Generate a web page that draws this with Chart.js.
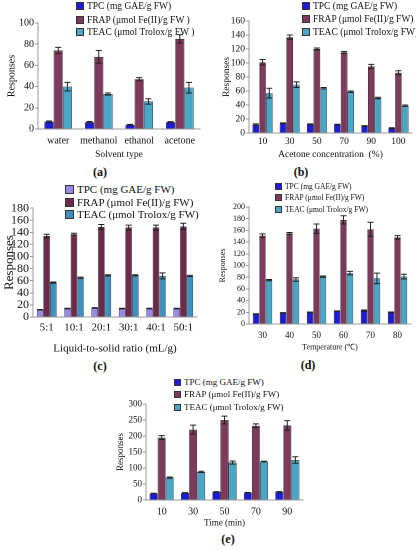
<!DOCTYPE html>
<html>
<head>
<meta charset="utf-8">
<script src="https://cdn.jsdelivr.net/npm/chart.js@4/dist/chart.umd.min.js"></script>
<style>
  html, body { margin: 0; padding: 0; background: #fff; }
  #page { position: relative; width: 416px; height: 550px; overflow: hidden; font-family: "Liberation Serif", serif; color: #111; }
  canvas { position: absolute; }
  .lg { position: absolute; white-space: nowrap; z-index: 2; }
  .lg i { display: inline-block; border: 1px solid #333; margin-right: 3px; vertical-align: -1px; }
  .tag { position: absolute; font-weight: bold; font-size: 12px; transform: translate(-50%, -50%); }
</style>
</head>
<body>
<div id="page">
  <canvas id="ca"></canvas>
  <canvas id="cb"></canvas>
  <canvas id="cc"></canvas>
  <canvas id="cd"></canvas>
  <canvas id="ce"></canvas>
</div>
<script>
// (a) solvent type
const solvents = ['water', 'methanol', 'ethanol', 'acetone'];
const solventTPC = [7, 6.5, 4, 6.5];
const solventTPCErr = [0.5, 0.6, 0.4, 0.5];
const solventFRAP = [74, 68, 47, 85];
const solventFRAPErr = [3, 6, 1.5, 4];
const solventTEAC = [40, 33, 26, 39];
const solventTEACErr = [4, 1, 2.5, 5];

// (b) acetone concentration
const acetone = ['10', '30', '50', '70', '90', '100'];
const acetoneTPC = [12, 14, 12.5, 12, 10, 7];
const acetoneTPCErr = [1, 0.5, 0.5, 0.5, 0.5, 0.5];
const acetoneFRAP = [101, 137, 120, 115, 95, 86];
const acetoneFRAPErr = [4, 3, 1.5, 1.5, 3, 3];
const acetoneTEAC = [57, 69, 64, 59, 50, 39];
const acetoneTEACErr = [7, 4, 1, 1, 1, 1];

// (c) liquid-to-solid ratio
const ratios = ['5:1', '10:1', '20:1', '30:1', '40:1', '50:1'];
const ratioTPC = [12, 14, 15, 14, 14, 14];
const ratioTPCErr = [0.5, 0.5, 0.5, 0.5, 0.5, 0.5];
const ratioFRAP = [134, 137, 149, 148, 148, 150];
const ratioFRAPErr = [3, 1.5, 4, 4, 4, 5];
const ratioTEAC = [57, 65, 69, 69, 68, 68];
const ratioTEACErr = [1, 1, 1, 1, 5, 1];

// (d) temperature
const temps = ['30', '40', '50', '60', '70', '80'];
const tempTPC = [17, 19, 20, 22, 23, 20];
const tempTPCErr = [0.5, 0.5, 0.5, 0.5, 1, 0.5];
const tempFRAP = [151, 155, 163, 178, 162, 148];
const tempFRAPErr = [3, 1.5, 8, 7, 12, 3];
const tempTEAC = [75, 76, 81, 87, 78, 81];
const tempTEACErr = [1, 3, 1, 3, 9, 4];

// (e) time
const times = ['10', '30', '50', '70', '90'];
const timeTPC = [20, 22, 25, 23, 25];
const timeTPCErr = [1, 1, 1, 1, 1];
const timeFRAP = [195, 220, 250, 232, 233];
const timeFRAPErr = [6, 14, 12, 6, 15];
const timeTEAC = [70, 88, 117, 120, 125];
const timeTEACErr = [2, 2, 5, 1, 10];

const seriesNames = ['TPC (mg GAE/g FW)', 'FRAP (\u03bcmol Fe(II)/g FW)', 'TEAC (\u03bcmol Trolox/g FW)'];

const mainColors = ['#1c1cd8', '#7d3a5c', '#4aa6c6'];
const ratioColors = ['#9a88e8', '#6e2a4c', '#3e90c0'];

const SERIF = "'Liberation Serif', serif";

// error bars drawn from the bar elements and the y scale
const errorBars = {
  id: 'errorBars',
  afterDatasetsDraw(chart) {
    const ctx = chart.ctx;
    const y = chart.scales.y;
    ctx.save();
    ctx.strokeStyle = '#222';
    ctx.lineWidth = 1;
    chart.data.datasets.forEach((ds, i) => {
      const meta = chart.getDatasetMeta(i);
      meta.data.forEach((bar, j) => {
        const v = ds.data[j], e = ds.errors[j];
        const top = y.getPixelForValue(v + e);
        const bot = y.getPixelForValue(v - e);
        const cap = Math.min(3, bar.width / 2);
        ctx.beginPath();
        ctx.moveTo(bar.x, top); ctx.lineTo(bar.x, bot);
        ctx.moveTo(bar.x - cap, top); ctx.lineTo(bar.x + cap, top);
        ctx.moveTo(bar.x - cap, bot); ctx.lineTo(bar.x + cap, bot);
        ctx.stroke();
      });
    });
    ctx.restore();
  }
};

function makePanel(p) {
  const cv = document.getElementById(p.id);
  cv.style.left = p.box.left + 'px';
  cv.style.top = p.box.top + 'px';
  const bottom = p.box.top + p.box.height;
  new Chart(cv, {
    type: 'bar',
    data: {
      labels: p.labels,
      datasets: p.values.map((vals, i) => ({
        label: seriesNames[i],
        data: vals,
        errors: p.errors[i],
        backgroundColor: p.colors[i],
        borderColor: '#333',
        borderWidth: 0.6,
        barPercentage: 1,
        categoryPercentage: p.catPct
      }))
    },
    options: {
      responsive: false,
      animation: false,
      devicePixelRatio: 2,
      layout: { padding: { top: p.area.t - p.box.top, right: p.box.left + p.box.width - p.area.r, left: 0, bottom: 0 } },
      plugins: { legend: { display: false }, tooltip: { enabled: false } },
      scales: {
        x: {
          grid: { display: false, drawTicks: false },
          border: { color: '#999' },
          ticks: { color: '#111', padding: p.xPad, maxRotation: 0, autoSkip: false, font: { family: SERIF, size: p.xFont } },
          title: { display: true, text: p.xTitle, color: '#111', padding: { top: 0, bottom: p.xTitlePad }, font: { family: SERIF, size: p.xTitleFont } },
          afterFit: s => { s.height = bottom - p.area.b; }
        },
        y: {
          min: 0, max: p.yMax,
          grid: { drawOnChartArea: false, tickLength: 3, color: '#999' },
          border: { color: '#999' },
          ticks: { stepSize: p.yStep, autoSkip: false, color: '#111', padding: 1, font: { family: SERIF, size: p.yFont } },
          title: { display: true, text: 'Responses', color: '#111', padding: { top: p.yTitlePad, bottom: 0 }, font: { family: SERIF, size: p.yTitleFont } },
          afterFit: s => { s.width = p.area.l - p.box.left; }
        }
      }
    },
    plugins: [errorBars]
  });
  cv.style.width = p.box.width + 'px';
  cv.style.height = p.box.height + 'px';
}

function legend(left, ys, size, colors, names) {
  const page = document.getElementById('page');
  names.forEach((n, i) => {
    const d = document.createElement('div');
    d.className = 'lg';
    d.style.left = left + 'px';
    d.style.top = (ys[i] - size * 0.6) + 'px';
    d.style.fontSize = size + 'px';
    const sq = Math.round(size * 0.6);
    d.innerHTML = '<i style="width:' + sq + 'px;height:' + sq + 'px;background:' + colors[i] + '"></i>' + n;
    page.appendChild(d);
  });
}

function tag(text, x, y) {
  const d = document.createElement('div');
  d.className = 'tag';
  d.style.left = x + 'px';
  d.style.top = y + 'px';
  d.textContent = text;
  document.getElementById('page').appendChild(d);
}

function sizeCanvas(id, w, h) {
  const c = document.getElementById(id);
  c.width = w; c.height = h;
}
sizeCanvas('ca', 205, 152);
sizeCanvas('cb', 206, 152);
sizeCanvas('cc', 205, 158);
sizeCanvas('cd', 206, 155);
sizeCanvas('ce', 200, 135);

makePanel({
  id: 'ca', box: { left: 0, top: 10, width: 205, height: 152 }, area: { l: 38, t: 23, r: 200, b: 129 },
  labels: solvents, values: [solventTPC, solventFRAP, solventTEAC], errors: [solventTPCErr, solventFRAPErr, solventTEACErr],
  colors: mainColors, catPct: 0.68, yMax: 100, yStep: 20, yFont: 10, xFont: 10, xPad: 6,
  xTitle: 'Solvent type', xTitleFont: 9.5, xTitlePad: 2, yTitleFont: 10, yTitlePad: 6
});
makePanel({
  id: 'cb', box: { left: 210, top: 10, width: 206, height: 152 }, area: { l: 249, t: 21, r: 412, b: 133 },
  labels: acetone, values: [acetoneTPC, acetoneFRAP, acetoneTEAC], errors: [acetoneTPCErr, acetoneFRAPErr, acetoneTEACErr],
  colors: mainColors, catPct: 0.74, yMax: 160, yStep: 20, yFont: 9.5, xFont: 9.5, xPad: 3,
  xTitle: 'Acetone concentration  (%)', xTitleFont: 9.5, xTitlePad: 2, yTitleFont: 9.5, yTitlePad: 11
});
makePanel({
  id: 'cc', box: { left: 0, top: 200, width: 205, height: 158 }, area: { l: 33, t: 208, r: 197, b: 317 },
  labels: ratios, values: [ratioTPC, ratioFRAP, ratioTEAC], errors: [ratioTPCErr, ratioFRAPErr, ratioTEACErr],
  colors: ratioColors, catPct: 0.72, yMax: 180, yStep: 20, yFont: 12, xFont: 11, xPad: 4,
  xTitle: 'Liquid-to-solid ratio (mL/g)', xTitleFont: 11, xTitlePad: 3, yTitleFont: 13, yTitlePad: 2
});
makePanel({
  id: 'cd', box: { left: 210, top: 200, width: 206, height: 155 }, area: { l: 249, t: 207, r: 411, b: 324 },
  labels: temps, values: [tempTPC, tempFRAP, tempTEAC], errors: [tempTPCErr, tempFRAPErr, tempTEACErr],
  colors: mainColors, catPct: 0.72, yMax: 200, yStep: 20, yFont: 8, xFont: 9, xPad: 6,
  xTitle: 'Temperature (\u2103)', xTitleFont: 8, xTitlePad: 3, yTitleFont: 8, yTitlePad: 8
});
makePanel({
  id: 'ce', box: { left: 110, top: 395, width: 200, height: 135 }, area: { l: 146, t: 404, r: 303, b: 500 },
  labels: times, values: [timeTPC, timeFRAP, timeTEAC], errors: [timeTPCErr, timeFRAPErr, timeTEACErr],
  colors: mainColors, catPct: 0.77, yMax: 300, yStep: 50, yFont: 9, xFont: 10, xPad: 6,
  xTitle: 'Time (min)', xTitleFont: 9, xTitlePad: 1.5, yTitleFont: 9, yTitlePad: 5
});

legend(76, [7, 21, 33], 9.5, mainColors, ['TPC (mg GAE/g FW)', 'FRAP (\u03bcmol Fe(II)/g FW )', 'TEAC (\u03bcmol Trolox/g FW )']);
legend(302, [7, 20, 33], 9.5, mainColors, seriesNames);
legend(65, [190, 203, 215], 11, ratioColors, seriesNames);
legend(275, [186, 197, 209], 7.5, mainColors, seriesNames);
legend(174, [382, 394, 407], 9, mainColors, ['TPC (mg  GAE/g FW)', 'FRAP (\u03bcmol Fe(II)/g FW)', 'TEAC (\u03bcmol Trolox/g FW)']);

tag('(a)', 100, 172);
tag('(b)', 301, 172);
tag('(c)', 100, 366);
tag('(d)', 308, 365);
tag('(e)', 228, 539);
</script>
</body>
</html>
